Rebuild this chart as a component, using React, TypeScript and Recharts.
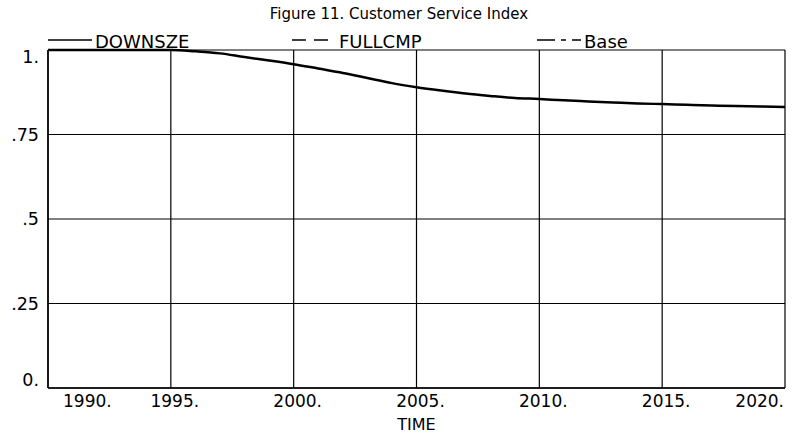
import React from "react"
import {
    LineChart,
    Line,
    XAxis,
    YAxis,
    CartesianGrid,
} from "recharts"

const years = [
    1990, 1991, 1992, 1993, 1994, 1995, 1996, 1997, 1998, 1999, 2000,
    2001, 2002, 2003, 2004, 2005, 2006, 2007, 2008, 2009, 2010,
    2011, 2012, 2013, 2014, 2015, 2016, 2017, 2018, 2019, 2020,
]

const downsze = [
    1.0, 1.0, 1.0, 1.0, 1.0, 1.0, 0.996, 0.99, 0.979, 0.969, 0.958,
    0.945, 0.932, 0.917, 0.902, 0.89, 0.88, 0.871, 0.864, 0.858, 0.855,
    0.851, 0.848, 0.845, 0.842, 0.84, 0.838, 0.836, 0.834, 0.833, 0.831,
]

const xTicks = [1990, 1995, 2000, 2005, 2010, 2015, 2020]
const yTicks = [0, 0.25, 0.5, 0.75, 1]
const yLabels = ["0.", ".25", ".5", ".75", "1."]

const legendItems = [
    { name: "DOWNSZE", dash: "none" },
    { name: "FULLCMP", dash: "14 8" },
    { name: "Base", dash: "18 6 5 6" },
]

const data = years.map((t, i) => ({ t, downsze: downsze[i] }))

const font = "'DejaVu Sans', sans-serif"

// Vensim-style labels: end labels are pulled inward
const XTick = (props: any) => {
    const { x, y, payload, index } = props
    let anchor = "middle"
    let dx = 4
    if (index === 0) { anchor = "start"; dx = 15 }
    if (index === xTicks.length - 1) { anchor = "end"; dx = 6 }
    return (
        <text x={x + dx} y={y + 11} textAnchor={anchor} fontSize={17}
            fontFamily={font} fill="#000">
            {payload.value}.
        </text>
    )
}

const YTick = (props: any) => {
    const { x, y, payload } = props
    const i = yTicks.indexOf(payload.value)
    let dy = 6
    if (payload.value === 1) dy = 13
    if (payload.value === 0) dy = -2
    return (
        <text x={x - 1} y={y + dy} textAnchor="end" fontSize={17.5}
            fontFamily={font} fill="#000">
            {yLabels[i]}
        </text>
    )
}

const legendPos = [48, 292, 537]

const Header = () => (
    <svg width={794} height={60} style={{ position: "absolute", left: 0, top: 0, overflow: "visible" }}>
        <text x={399} y={19} textAnchor="middle" fontSize={15} fontFamily={font} fill="#000">
            Figure 11.  Customer Service Index
        </text>
        {legendItems.map((it, i) => (
            <g key={it.name}>
                <line x1={legendPos[i]} x2={legendPos[i] + 44} y1={40} y2={40}
                    stroke="#000" strokeWidth={1.5} strokeDasharray={it.dash} />
                <text x={legendPos[i] + 47} y={48} fontSize={18} fontFamily={font} fill="#000">
                    {it.name}
                </text>
            </g>
        ))}
    </svg>
)

export default function App() {
    return (
        <div style={{ position: "absolute", left: 0, top: 0, width: 794, height: 434, background: "#fff" }}>
            <LineChart
                width={794}
                height={434}
                data={data}
                margin={{ top: 50, right: 9, left: 0, bottom: 16 }}
            >
                <CartesianGrid stroke="#000" strokeWidth={1.2} />
                <XAxis
                    dataKey="t"
                    type="number"
                    domain={[1990, 2020]}
                    ticks={xTicks}
                    tick={<XTick />}
                    tickLine={false}
                    axisLine={{ stroke: "#000", strokeWidth: 1.5 }}
                    height={30}
                    label={{ value: "TIME", position: "insideBottom", offset: -12, fontSize: 16, fontFamily: font, fill: "#000" }}
                />
                <YAxis
                    type="number"
                    domain={[0, 1]}
                    ticks={yTicks}
                    tick={<YTick />}
                    tickLine={false}
                    axisLine={{ stroke: "#000", strokeWidth: 1.5 }}
                    width={48}
                />
                <Line
                    dataKey="downsze"
                    name="DOWNSZE"
                    type="monotone"
                    stroke="#000"
                    strokeWidth={2.5}
                    dot={false}
                    isAnimationActive={false}
                />
            </LineChart>
            <Header />
        </div>
    )
}
